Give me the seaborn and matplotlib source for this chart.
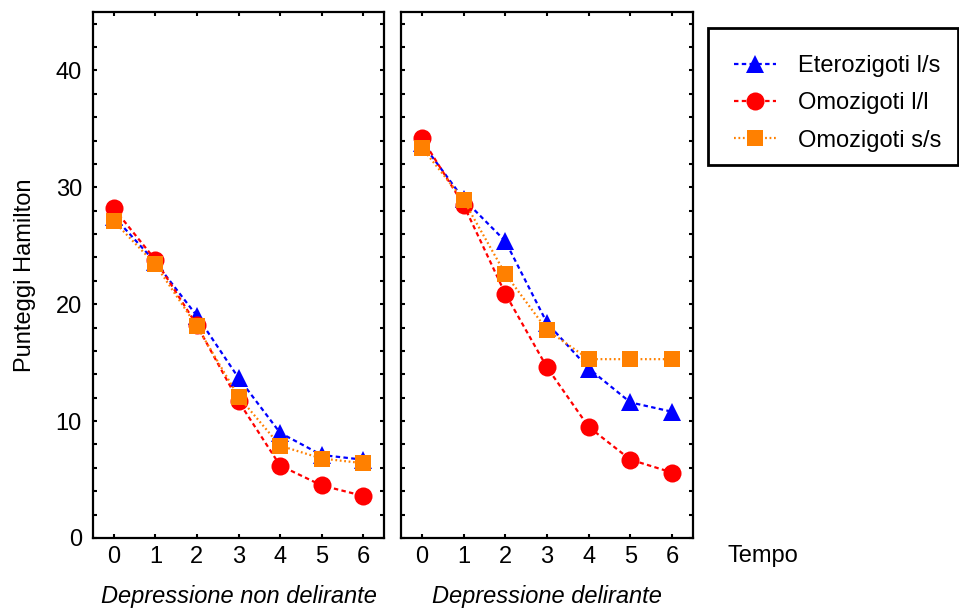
import numpy as np
import pandas as pd
import matplotlib
matplotlib.use('Agg')
import matplotlib.pyplot as plt
import seaborn as sns
from matplotlib.ticker import MultipleLocator
from matplotlib.patches import Rectangle

sns.set_style('ticks')
plt.rcParams['font.family'] = ['Liberation Sans', 'DejaVu Sans']
plt.rcParams['font.size'] = 17
plt.rcParams['text.color'] = 'black'
plt.rcParams['axes.labelcolor'] = 'black'
plt.rcParams['xtick.color'] = 'black'
plt.rcParams['ytick.color'] = 'black'

# dati
tempo = [0, 1, 2, 3, 4, 5, 6]
gruppi = ['Eterozigoti l/s', 'Omozigoti l/l', 'Omozigoti s/s']
pannelli = ['Depressione non delirante', 'Depressione delirante']

# depressione non delirante
nd_ls = [27.5, 23.6, 19.0, 13.7, 9.0, 7.1, 6.7]
nd_ll = [28.2, 23.8, 18.2, 11.7, 6.2, 4.5, 3.6]
nd_ss = [27.1, 23.4, 18.1, 12.1, 7.9, 6.8, 6.4]
# depressione delirante
d_ls = [33.8, 29.0, 25.4, 18.4, 14.5, 11.6, 10.8]
d_ll = [34.2, 28.5, 20.9, 14.6, 9.5, 6.7, 5.6]
d_ss = [33.4, 28.9, 22.6, 17.8, 15.3, 15.3, 15.3]

valori = {
    pannelli[0]: [nd_ls, nd_ll, nd_ss],
    pannelli[1]: [d_ls, d_ll, d_ss],
}

righe = []
for pan, serie in valori.items():
    for g, ys in zip(gruppi, serie):
        for t, y in zip(tempo, ys):
            righe.append({'Pannello': pan, 'Genotipo': g, 'Tempo': t, 'Punteggio': y})
df = pd.DataFrame(righe)

colori = {gruppi[0]: '#0000ff', gruppi[1]: '#ff0000', gruppi[2]: '#ff8000'}
marker = {gruppi[0]: '^', gruppi[1]: 'o', gruppi[2]: 's'}
tratti = {gruppi[0]: (2, 1.5), gruppi[1]: (2, 1.5), gruppi[2]: (0.8, 1.2)}

fig = plt.figure(figsize=(9.59, 6.13), dpi=100)
ax1 = fig.add_axes([93 / 959, 75 / 613, 291 / 959, 526 / 613])
ax2 = fig.add_axes([401 / 959, 75 / 613, 292 / 959, 526 / 613])

for ax, pan in zip([ax1, ax2], pannelli):
    sub = df[df['Pannello'] == pan]
    sns.lineplot(data=sub, x='Tempo', y='Punteggio', hue='Genotipo', style='Genotipo',
                 hue_order=gruppi, style_order=gruppi, palette=colori,
                 markers=marker, dashes=tratti, markersize=13, linewidth=1.6,
                 markeredgewidth=0, legend=False, ax=ax)
    ax.set_xlim(-0.5, 6.5)
    ax.set_ylim(0, 45)
    ax.set_xticks(tempo)
    ax.yaxis.set_major_locator(MultipleLocator(10))
    ax.yaxis.set_minor_locator(MultipleLocator(2))
    ax.tick_params(which='both', direction='in', top=True, right=True,
                   length=3, width=1.5, labelsize=17, colors='black')
    ax.tick_params(axis='x', pad=6)
    ax.tick_params(axis='y', pad=8)
    for s in ax.spines.values():
        s.set_visible(True)
        s.set_linewidth(1.6)
        s.set_color('black')
    ax.set_xlabel(pan, style='italic', fontsize=17, labelpad=12)
    ax.set_ylabel('')

# quadrati leggermente piu piccoli
for ax in [ax1, ax2]:
    for ln in ax.get_lines():
        if ln.get_marker() == 's':
            ln.set_markersize(12)

ax1.set_ylabel('Punteggi Hamilton', fontsize=17, labelpad=14)
ax2.tick_params(labelleft=False)

fig.text(727 / 959, 1 - 556 / 613, 'Tempo', fontsize=17, ha='left', va='center')

# legenda senza cornice, la cornice e' disegnata a parte
handles = ax2.get_lines()[:3]
leg = fig.legend(handles, gruppi, loc='upper left',
                 bbox_to_anchor=(708 / 959, 1 - 29 / 613), fontsize=17,
                 frameon=False, handlelength=1.8, handletextpad=0.9,
                 labelspacing=0.65, borderpad=1.1, borderaxespad=0)
fig.patches.append(Rectangle((708 / 959, 1 - 165 / 613), 250 / 959, 137 / 613,
                             transform=fig.transFigure, fill=False,
                             edgecolor='black', linewidth=2))

fig.savefig('out.png', dpi=100)
